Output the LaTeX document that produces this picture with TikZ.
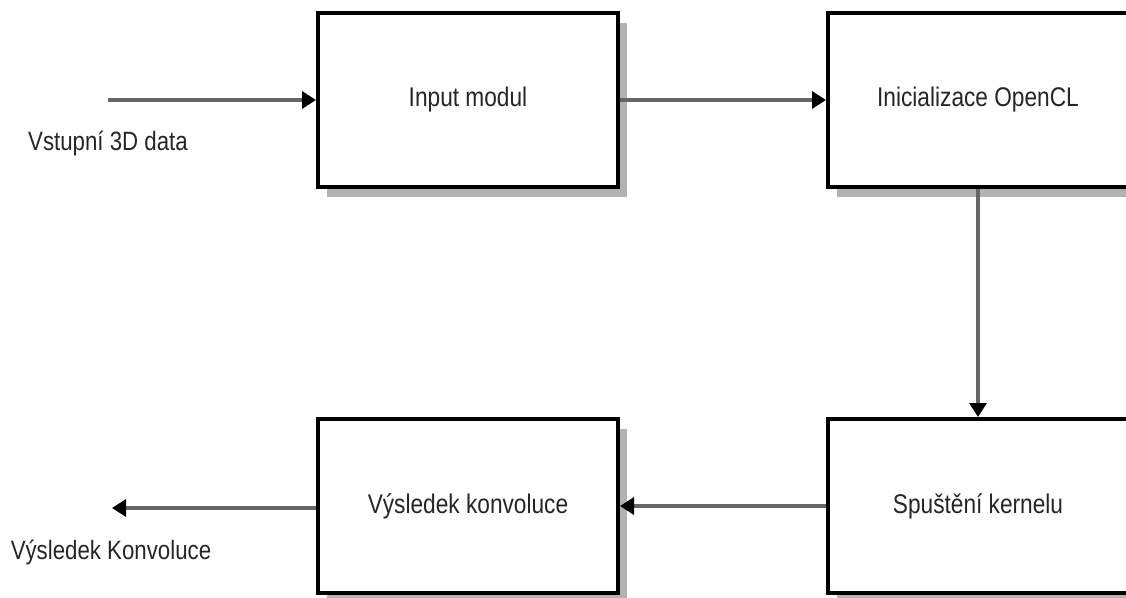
\documentclass[tikz,border=0pt]{standalone}
\usepackage{fontspec}
\setmainfont{Liberation Sans}
\usetikzlibrary{arrows.meta,shadows}

\tikzset{
  modul/.style={draw=black, line width=4pt, fill=white, inner sep=0pt,
    minimum width=300pt, minimum height=174pt, text=black!85,
    font=\fontsize{27}{30}\selectfont,
    drop shadow={shadow xshift=9pt, shadow yshift=-10pt, fill=black!30, opacity=1}},
  tok/.style={draw=black!60, line width=3.2pt,
    -{Triangle[length=14pt,width=17pt,color=black]}},
  popis/.style={text=black!85, font=\fontsize{26.5}{28}\selectfont}
}
\newcommand{\uzky}[1]{\scalebox{0.84}[1]{#1}}

\begin{document}
\begin{tikzpicture}[x=1pt,y=-1pt]
  \useasboundingbox (0,0) rectangle (1126,597);
  \clip (0,0) rectangle (1126,597);

  \node[modul] (In)   at (468,100) {\uzky{Input modul}};
  \node[modul] (Init) at (978,100) {\uzky{Inicializace OpenCL}};
  \node[modul] (Run)  at (978,506) {\uzky{Spuštění kernelu}};
  \node[modul] (Out)  at (468,506) {\uzky{Výsledek konvoluce}};

  \coordinate (vstup) at (108,100);
  \coordinate (vystup) at (112,508);
  \node[popis] (lvstup)  at (108,143) {\uzky{Vstupní 3D data}};
  \node[popis] (lvystup) at (111,552) {\uzky{Výsledek Konvoluce}};

  \draw[tok] (vstup) -- (In.west);
  \draw[tok] (In.east) -- (Init.west);
  \draw[tok] (Init.south) -- (Run.north);
  \draw[tok] (Run.west) -- (Out.east);
  \draw[tok] (Out.west |- vystup) -- (vystup);
\end{tikzpicture}
\end{document}
